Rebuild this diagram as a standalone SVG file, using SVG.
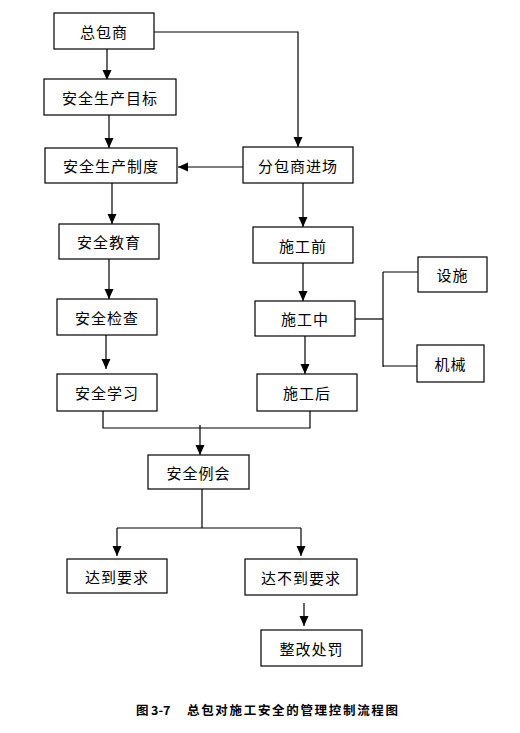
<svg xmlns="http://www.w3.org/2000/svg" width="520" height="733" viewBox="0 0 520 733">
<style>
rect.n{fill:#fff;stroke:#000;stroke-width:1.2}
text.t{font-family:"Noto Sans CJK SC","Liberation Sans",sans-serif;font-size:15px;fill:#000;text-anchor:middle;dominant-baseline:central;letter-spacing:1px}
.c path,.c line,.c polyline{fill:none;stroke:#000;stroke-width:1.2}
text.cap{font-family:"Noto Sans CJK SC","Liberation Sans",sans-serif;font-size:12.5px;font-weight:bold;fill:#000}
</style>
<defs>
<marker id="a" markerUnits="userSpaceOnUse" markerWidth="10" markerHeight="10" refX="10" refY="4.5" orient="auto">
<path d="M0,0 L10,4.5 L0,9 z" fill="#000"/>
</marker>
</defs>
<rect width="520" height="733" fill="#fff"/>
<g class="c" id="connectors">
<line x1="107" y1="49" x2="107" y2="80" marker-end="url(#a)"/>
<polyline points="154,32 298,32 298,147" marker-end="url(#a)"/>
<line x1="109" y1="115" x2="109" y2="148" marker-end="url(#a)"/>
<line x1="243" y1="167" x2="178" y2="167" marker-end="url(#a)"/>
<line x1="112" y1="183" x2="112" y2="224" marker-end="url(#a)"/>
<line x1="303" y1="183" x2="303" y2="227" marker-end="url(#a)"/>
<line x1="109" y1="259" x2="109" y2="299" marker-end="url(#a)"/>
<line x1="303" y1="263" x2="303" y2="301" marker-end="url(#a)"/>
<line x1="106" y1="335" x2="106" y2="369" marker-end="url(#a)"/>
<line x1="305" y1="336" x2="305" y2="374" marker-end="url(#a)"/>
<line x1="355" y1="319" x2="383" y2="319"/>
<line x1="383" y1="272" x2="383" y2="367"/>
<line x1="383" y1="272" x2="418" y2="272"/>
<line x1="383" y1="366" x2="417" y2="366"/>
<polyline points="103,411 103,428 310,428 310,411"/>
<line x1="200" y1="425" x2="200" y2="455" marker-end="url(#a)"/>
<line x1="202" y1="489" x2="202" y2="528"/>
<line x1="117" y1="528" x2="301" y2="528"/>
<line x1="117" y1="528" x2="117" y2="556" marker-end="url(#a)"/>
<line x1="301" y1="528" x2="301" y2="556" marker-end="url(#a)"/>
<line x1="304" y1="603" x2="304" y2="626" marker-end="url(#a)"/>
</g>
<g id="n1"><rect class="n" x="54" y="13" width="100" height="36"/><text class="t" x="104" y="31">总包商</text></g>
<g id="n2"><rect class="n" x="44" y="79" width="132" height="36"/><text class="t" x="110" y="97">安全生产目标</text></g>
<g id="n3"><rect class="n" x="45" y="148" width="132" height="35"/><text class="t" x="111" y="165.5">安全生产制度</text></g>
<g id="n4"><rect class="n" x="243" y="147" width="110" height="36"/><text class="t" x="298" y="165">分包商进场</text></g>
<g id="n5"><rect class="n" x="59" y="224" width="100" height="35"/><text class="t" x="109" y="241.5">安全教育</text></g>
<g id="n6"><rect class="n" x="253" y="227" width="100" height="36"/><text class="t" x="303" y="245">施工前</text></g>
<g id="n7"><rect class="n" x="57" y="299" width="100" height="36"/><text class="t" x="107" y="317">安全检查</text></g>
<g id="n8"><rect class="n" x="255" y="301" width="100" height="35"/><text class="t" x="305" y="318.5">施工中</text></g>
<g id="n9"><rect class="n" x="418" y="257" width="69" height="35"/><text class="t" x="452.5" y="274.5">设施</text></g>
<g id="n10"><rect class="n" x="417" y="345" width="67" height="37"/><text class="t" x="450.5" y="363.5">机械</text></g>
<g id="n11"><rect class="n" x="57" y="374" width="100" height="37"/><text class="t" x="107" y="392.5">安全学习</text></g>
<g id="n12"><rect class="n" x="257" y="374" width="100" height="37"/><text class="t" x="307" y="392.5">施工后</text></g>
<g id="n13"><rect class="n" x="148" y="455" width="101" height="34"/><text class="t" x="198.5" y="472">安全例会</text></g>
<g id="n14"><rect class="n" x="67" y="559" width="100" height="34"/><text class="t" x="117" y="576">达到要求</text></g>
<g id="n15"><rect class="n" x="245" y="559" width="112" height="36"/><text class="t" x="301" y="577">达不到要求</text></g>
<g id="n16"><rect class="n" x="261" y="630" width="101" height="36"/><text class="t" x="311.5" y="648">整改处罚</text></g>
<g id="caption">
<text class="cap" x="136" y="715">图</text>
<text class="cap" x="151" y="715">3-7</text>
<text class="cap" x="187" y="715" textLength="211" lengthAdjust="spacing">总包对施工安全的管理控制流程图</text>
</g>
</svg>
